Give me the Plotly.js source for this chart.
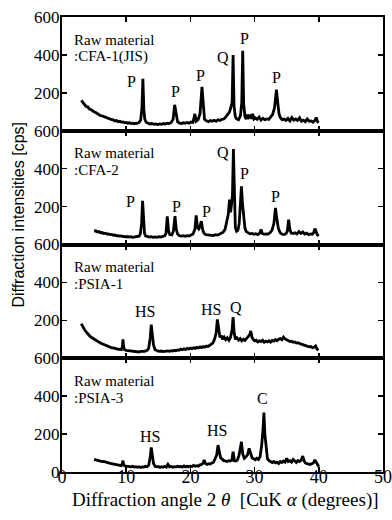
<!DOCTYPE html>
<html><head><meta charset="utf-8">
<script src="https://cdn.plot.ly/plotly-3.0.1.min.js"></script>
<style>html,body{margin:0;padding:0;background:#fff}#c{width:392px;height:520px}</style>
</head><body><div id="c"></div>
<script>
// Panel names
const panelLine1 = ["Raw material", "Raw material", "Raw material", "Raw material"];
const panelLine2 = [":CFA-1(JIS)", ":CFA-2", ":PSIA-1", ":PSIA-3"];

// CFA-1(JIS)
const cfa1X = [3.0,3.25,3.5,3.75,4.0,4.25,4.5,4.75,5.0,5.25,5.5,5.75,6.0,6.25,6.5,6.75,7.0,7.25,7.5,7.75,8.0,8.25,8.5,8.75,9.0,9.25,9.5,9.75,10.0,10.25,10.5,10.75,11.0,11.25,11.5,11.75,12.0,12.25,12.45,12.6,12.75,12.9,13.1,13.4,13.7,14.0,14.3,14.6,14.9,15.2,15.5,15.8,16.1,16.4,16.7,17.0,17.3,17.55,17.8,18.0,18.3,18.6,18.9,19.2,19.5,19.8,20.1,20.4,20.7,20.9,21.2,21.5,21.8,22.0,22.2,22.5,22.8,23.1,23.4,23.7,24.0,24.3,24.6,24.9,25.2,25.5,25.8,26.1,26.35,26.5,26.65,26.8,27.0,27.2,27.5,27.8,28.0,28.15,28.3,28.5,28.7,28.9,29.1,29.3,29.5,29.7,29.9,30.1,30.4,30.7,31.0,31.3,31.6,31.9,32.2,32.5,32.8,33.1,33.4,33.6,33.8,34.0,34.3,34.6,34.9,35.2,35.5,35.8,36.1,36.4,36.7,37.0,37.3,37.6,37.9,38.2,38.5,38.8,39.1,39.4,39.6,39.8,39.95];
const cfa1Y = [160,150,142,128,126,115,112,104,100,96,90,88,80,78,74,70,68,64,62,58,57,52,54,48,50,46,47,42,44,40,42,38,40,37,40,39,44,55,120,274,110,60,45,40,36,38,34,36,33,36,34,38,35,40,38,44,60,137,70,48,40,38,42,39,44,40,46,44,89,50,58,90,231,110,60,52,48,54,50,55,50,58,54,60,62,72,85,100,130,150,400,130,75,62,58,80,150,422,140,75,62,85,70,78,64,89,62,68,60,72,56,66,58,62,60,72,85,120,217,150,90,70,58,62,55,65,52,70,56,62,55,68,50,56,48,62,50,52,45,55,70,48,42];

// CFA-2
const cfa2X = [5.0,5.25,5.5,5.75,6.0,6.25,6.5,6.75,7.0,7.25,7.5,7.75,8.0,8.25,8.5,8.75,9.0,9.25,9.5,9.75,10.0,10.25,10.5,10.75,11.0,11.25,11.5,11.75,12.0,12.2,12.4,12.55,12.7,12.85,13.0,13.3,13.6,13.9,14.2,14.5,14.8,15.1,15.4,15.7,16.0,16.2,16.4,16.6,16.8,17.1,17.35,17.6,17.8,18.0,18.3,18.6,18.9,19.2,19.5,19.8,20.1,20.4,20.7,20.9,21.1,21.3,21.5,21.7,21.9,22.1,22.4,22.7,23.0,23.3,23.6,23.9,24.2,24.5,24.8,25.1,25.4,25.7,25.9,26.1,26.25,26.4,26.55,26.7,26.85,27.0,27.2,27.4,27.6,27.8,27.95,28.1,28.3,28.5,28.7,29.0,29.3,29.6,29.9,30.2,30.5,30.8,31.0,31.2,31.5,31.8,32.1,32.4,32.7,33.0,33.25,33.45,33.7,34.0,34.3,34.6,34.9,35.1,35.3,35.5,35.7,36.0,36.3,36.6,36.9,37.2,37.5,37.8,38.1,38.4,38.7,39.0,39.2,39.4,39.6,39.8,40.0];
const cfa2Y = [70,72,66,68,62,63,58,60,55,56,52,53,49,50,46,47,44,45,42,43,40,42,39,41,38,40,39,42,44,55,110,231,110,60,46,42,39,41,38,40,38,41,39,43,46,60,149,70,52,50,70,149,80,55,46,44,46,43,47,45,50,55,80,153,90,82,95,123,80,60,52,50,48,50,47,52,50,54,58,65,80,120,160,237,170,210,260,503,200,90,70,75,110,200,307,220,130,85,68,60,56,58,54,57,52,60,79,58,54,56,55,62,75,110,193,140,85,62,54,52,58,70,131,80,60,58,62,56,68,58,66,55,60,52,56,54,62,84,60,50,45];

// PSIA-1
const psia1X = [3.0,3.2,3.4,3.6,3.8,4.0,4.25,4.5,4.75,5.0,5.25,5.5,5.75,6.0,6.25,6.5,6.75,7.0,7.25,7.5,7.75,8.0,8.25,8.5,8.75,9.0,9.25,9.4,9.5,9.6,9.75,10.0,10.25,10.5,10.75,11.0,11.25,11.5,11.75,12.0,12.25,12.5,12.75,13.0,13.25,13.5,13.75,13.9,14.05,14.25,14.5,14.75,15.0,15.25,15.5,15.75,16.0,16.25,16.5,16.75,17.0,17.25,17.5,17.75,18.0,18.25,18.5,18.75,19.0,19.25,19.5,19.75,20.0,20.25,20.5,20.75,21.0,21.25,21.5,21.75,22.0,22.25,22.5,22.75,23.0,23.25,23.5,23.75,24.0,24.2,24.4,24.6,24.8,25.0,25.25,25.5,25.75,26.0,26.25,26.5,26.65,26.8,27.0,27.25,27.5,27.75,28.0,28.25,28.5,28.75,29.0,29.25,29.4,29.6,29.8,30.0,30.25,30.5,30.75,31.0,31.25,31.5,31.75,32.0,32.25,32.5,32.75,33.0,33.25,33.5,33.75,34.0,34.25,34.5,34.75,35.0,35.25,35.5,35.75,36.0,36.25,36.5,36.75,37.0,37.25,37.5,37.75,38.0,38.25,38.5,38.75,39.0,39.25,39.5,39.7,39.9];
const psia1Y = [182,168,158,146,138,128,120,112,106,100,94,88,85,80,76,72,68,65,60,58,55,55,51,50,47,48,46,60,100,60,45,42,41,39,37,35,37,34,36,33,36,35,37,38,42,52,110,177,130,70,45,40,37,36,38,35,37,36,39,37,40,38,42,40,44,42,48,45,50,46,52,49,54,50,55,52,58,54,60,56,62,58,64,62,68,72,80,100,130,205,150,110,120,100,112,98,108,95,110,150,217,140,100,108,96,104,92,100,94,105,110,125,144,110,98,92,95,86,92,88,95,84,90,86,92,85,94,90,98,92,100,104,98,112,102,96,92,88,90,84,86,80,82,76,74,72,68,66,64,60,62,56,58,65,50,42];

// PSIA-3
const psia3X = [5.0,5.25,5.5,5.75,6.0,6.25,6.5,6.75,7.0,7.25,7.5,7.75,8.0,8.25,8.5,8.75,9.0,9.25,9.4,9.5,9.6,9.75,10.0,10.25,10.5,10.75,11.0,11.25,11.5,11.75,12.0,12.25,12.5,12.75,13.0,13.25,13.5,13.75,13.9,14.05,14.25,14.5,14.75,15.0,15.25,15.5,15.75,16.0,16.25,16.5,16.75,17.0,17.25,17.5,17.75,18.0,18.25,18.5,18.75,19.0,19.25,19.5,19.75,20.0,20.25,20.5,20.75,21.0,21.25,21.5,21.75,22.0,22.15,22.35,22.6,22.85,23.1,23.35,23.6,23.85,24.1,24.3,24.5,24.7,24.95,25.2,25.45,25.7,25.95,26.2,26.45,26.65,26.85,27.05,27.3,27.55,27.75,27.95,28.15,28.4,28.65,28.9,29.15,29.35,29.6,29.85,30.1,30.35,30.6,30.85,31.1,31.3,31.45,31.6,31.8,32.0,32.25,32.5,32.75,33.0,33.25,33.5,33.75,34.0,34.25,34.5,34.75,35.0,35.25,35.5,35.75,36.0,36.25,36.5,36.75,37.0,37.25,37.5,37.7,37.9,38.15,38.4,38.65,38.9,39.15,39.4,39.6,39.8,40.0];
const psia3Y = [67,64,62,60,58,55,56,52,50,48,46,44,42,40,39,36,36,34,45,60,40,33,31,29,30,27,30,26,28,25,28,24,27,26,30,28,36,80,130,90,45,30,27,29,24,28,25,30,26,40,27,29,25,28,26,30,27,29,26,32,27,30,28,31,29,35,30,33,31,38,40,48,63,45,40,44,42,48,52,70,90,142,100,75,68,60,58,55,60,58,62,107,60,58,62,85,120,159,95,72,80,90,125,95,75,70,65,72,66,80,140,220,314,200,110,70,60,55,50,55,48,52,45,55,50,58,52,72,55,60,52,66,58,50,60,55,62,84,60,48,44,42,40,44,48,63,50,35,28];

// Peak labels per panel
const peakText1 = ["P","P","P","Q","P","P"];
const peakX1 = [10.9,17.7,21.6,25.0,28.4,33.4];
const peakY1 = [258,205,289,389,484,279];
const peakText2 = ["P","P","P","Q","P","P"];
const peakX2 = [10.7,17.9,22.5,25.0,28.4,33.3];
const peakY2 = [228,198,175,486,377,251];
const peakText3 = ["HS","HS","Q"];
const peakX3 = [13.0,23.2,27.1];
const peakY3 = [244,258,270];
const peakText4 = ["HS","HS","C"];
const peakX4 = [13.7,24.2,31.3];
const peakY4 = [189,217,388];

const xTicks = [0,10,20,30,40,50];
const yTicksUpper = [200,400,600];
const yTicksBottom = [0,200,400,600];

const series = [[cfa1X,cfa1Y],[cfa2X,cfa2Y],[psia1X,psia1Y],[psia3X,psia3Y]];
const peaks = [[peakText1,peakX1,peakY1],[peakText2,peakX2,peakY2],[peakText3,peakX3,peakY3],[peakText4,peakX4,peakY4]];

const serif = "Liberation Serif";
const traces = [];
const layout = {
  width: 392, height: 520,
  margin: {l: 62, r: 9, t: 17, b: 48},
  paper_bgcolor: "#fff", plot_bgcolor: "#fff",
  showlegend: false,
  annotations: []
};
const n = 4;
for (let i = 0; i < n; i++) {
  const sfx = i === 0 ? "" : String(i + 1);
  const top = 1 - i / n, bot = 1 - (i + 1) / n;
  traces.push({
    x: series[i][0], y: series[i][1], type: "scatter", mode: "lines",
    line: {color: "#000", width: 2.8}, xaxis: "x" + sfx, yaxis: "y" + sfx, hoverinfo: "skip"
  });
  const isBottom = i === n - 1;
  layout["xaxis" + sfx] = {
    domain: [0, 1], anchor: "y" + sfx, range: [0, 50], tickvals: xTicks,
    showticklabels: isBottom, ticks: "inside", ticklen: 5, tickwidth: 1.5, tickcolor: "#000",
    showline: true, linewidth: 2, linecolor: "#000", mirror: "ticks", showgrid: false, zeroline: false,
    tickfont: {family: serif, size: 18, color: "#000"}, ticklabelstandoff: -13
  };
  layout["yaxis" + sfx] = {
    domain: [bot, top], anchor: "x" + sfx, range: [0, 600],
    tickvals: isBottom ? yTicksBottom : yTicksUpper,
    ticks: "inside", ticklen: 5, tickwidth: 1.5, tickcolor: "#000",
    showline: true, linewidth: 2, linecolor: "#000", mirror: "ticks", showgrid: false, zeroline: false,
    tickfont: {family: serif, size: 17, color: "#000"}, ticklabelstandoff: -3
  };
  layout.annotations.push({
    text: panelLine1[i], xref: "x" + sfx, yref: "y" + sfx, x: 1.6, y: 481,
    xanchor: "left", yanchor: "middle", align: "left", showarrow: false,
    font: {family: serif, size: 15, color: "#000"}
  });
  layout.annotations.push({
    text: panelLine2[i], xref: "x" + sfx, yref: "y" + sfx, x: 1.6, y: 391,
    xanchor: "left", yanchor: "middle", align: "left", showarrow: false,
    font: {family: serif, size: 15, color: "#000"}
  });
  const pk = peaks[i];
  for (let k = 0; k < pk[0].length; k++) {
    layout.annotations.push({
      text: pk[0][k], xref: "x" + sfx, yref: "y" + sfx, x: pk[1][k], y: pk[2][k],
      xanchor: "center", yanchor: "middle", showarrow: false,
      font: {family: serif, size: 16, color: "#000"}
    });
  }
}
layout.annotations.push({
  text: "Diffraction intensities [cps]", xref: "paper", yref: "paper", x: -0.135, y: 0.565,
  xanchor: "center", yanchor: "middle", textangle: -90, showarrow: false,
  font: {family: "Liberation Sans", size: 16, color: "#000"}
});
layout.annotations.push({
  text: "Diffraction angle 2 <i>θ</i>\u00a0\u00a0[CuK <i>α</i> (degrees)]", xref: "paper", yref: "paper", x: 0.508, y: -0.0615,
  xanchor: "center", yanchor: "middle", showarrow: false,
  font: {family: serif, size: 19, color: "#000"}
});
Plotly.newPlot("c", traces, layout, {staticPlot: true, displayModeBar: false});
</script>
</body></html>
